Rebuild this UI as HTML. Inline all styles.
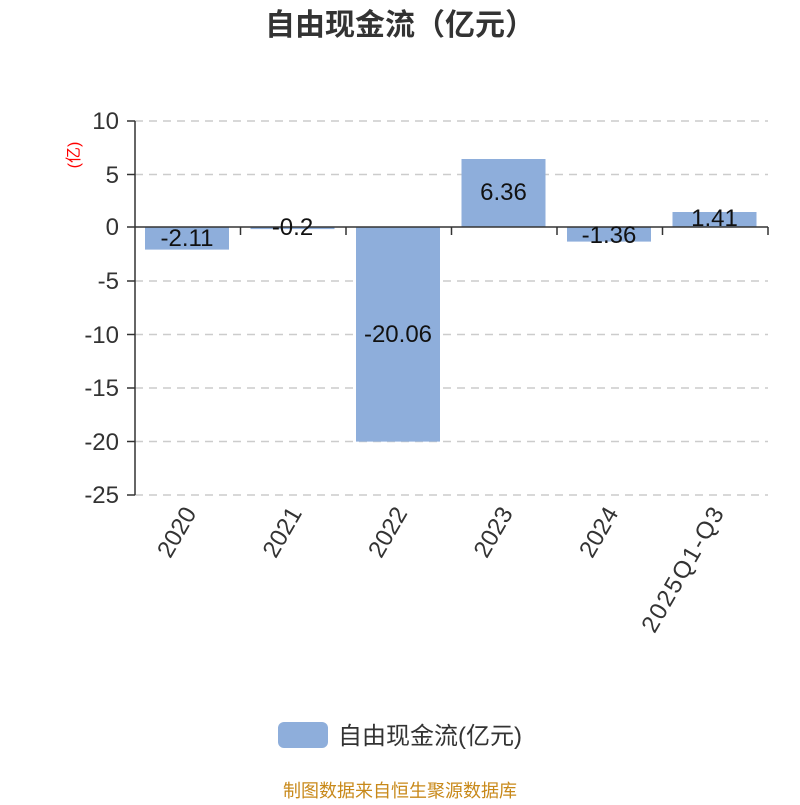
<!DOCTYPE html>
<html><head><meta charset="utf-8"><style>body{margin:0;background:#fff}</style></head><body>
<svg width="800" height="800" xmlns="http://www.w3.org/2000/svg" font-family="'Liberation Sans','Noto Sans CJK SC',sans-serif">
<text x="400" y="35" text-anchor="middle" font-size="30" font-weight="bold" fill="#333">自由现金流（亿元）</text>
<g stroke="#ccc" stroke-dasharray="8,6" stroke-width="1.5">
<line x1="135" x2="768" y1="121" y2="121"/><line x1="135" x2="768" y1="174.5" y2="174.5"/>
<line x1="135" x2="768" y1="281" y2="281"/><line x1="135" x2="768" y1="334.5" y2="334.5"/>
<line x1="135" x2="768" y1="388" y2="388"/><line x1="135" x2="768" y1="441.5" y2="441.5"/>
<line x1="135" x2="768" y1="495" y2="495"/>
</g>
<g fill="#8eaedb">
<rect x="145" y="227" width="84" height="22.6"/>
<rect x="250.5" y="227" width="84" height="2.1"/>
<rect x="356" y="227" width="84" height="214.6"/>
<rect x="461.5" y="159" width="84" height="68"/>
<rect x="567" y="227" width="84" height="14.6"/>
<rect x="672.5" y="212" width="84" height="15"/>
</g>
<g stroke="#333" stroke-width="1.5">
<line x1="135" y1="121" x2="135" y2="495"/>
<line x1="135" y1="227" x2="768" y2="227"/>
<line x1="127" x2="135" y1="121" y2="121"/><line x1="127" x2="135" y1="174.5" y2="174.5"/>
<line x1="127" x2="135" y1="227" y2="227"/><line x1="127" x2="135" y1="281" y2="281"/>
<line x1="127" x2="135" y1="334.5" y2="334.5"/><line x1="127" x2="135" y1="388" y2="388"/>
<line x1="127" x2="135" y1="441.5" y2="441.5"/><line x1="127" x2="135" y1="495" y2="495"/>
<line x1="240.5" x2="240.5" y1="227" y2="235"/><line x1="346" x2="346" y1="227" y2="235"/>
<line x1="451.5" x2="451.5" y1="227" y2="235"/><line x1="557" x2="557" y1="227" y2="235"/>
<line x1="662.5" x2="662.5" y1="227" y2="235"/><line x1="768" x2="768" y1="227" y2="235"/>
</g>
<g font-size="24" fill="#333" text-anchor="end">
<text x="119" y="129">10</text><text x="119" y="183">5</text><text x="119" y="235">0</text>
<text x="119" y="289">-5</text><text x="119" y="343">-10</text><text x="119" y="396">-15</text>
<text x="119" y="450">-20</text><text x="119" y="503">-25</text>
</g>
<text transform="translate(79,155) rotate(-90)" text-anchor="middle" font-size="16" fill="red">(亿)</text>
<g font-size="24" fill="#111" text-anchor="middle">
<text x="187" y="246">-2.11</text><text x="292.5" y="235">-0.2</text>
<text x="398" y="342">-20.06</text><text x="503.5" y="200">6.36</text>
<text x="609" y="243">-1.36</text><text x="714.5" y="226">1.41</text>
</g>
<g font-size="24" fill="#333" text-anchor="end">
<text transform="translate(197,513) rotate(-60)">2020</text>
<text transform="translate(302.5,513) rotate(-60)">2021</text>
<text transform="translate(408,513) rotate(-60)">2022</text>
<text transform="translate(513.5,513) rotate(-60)">2023</text>
<text transform="translate(619,513) rotate(-60)">2024</text>
<text transform="translate(724.5,513) rotate(-60)" textLength="140">2025Q1-Q3</text>
</g>
<rect x="278" y="722" width="50" height="26" rx="6" fill="#8eaedb"/>
<text x="338" y="744" font-size="24" fill="#333">自由现金流(亿元)</text>
<text x="400" y="797" text-anchor="middle" font-size="18" fill="#c8891a">制图数据来自恒生聚源数据库</text>
</svg>
</body></html>
